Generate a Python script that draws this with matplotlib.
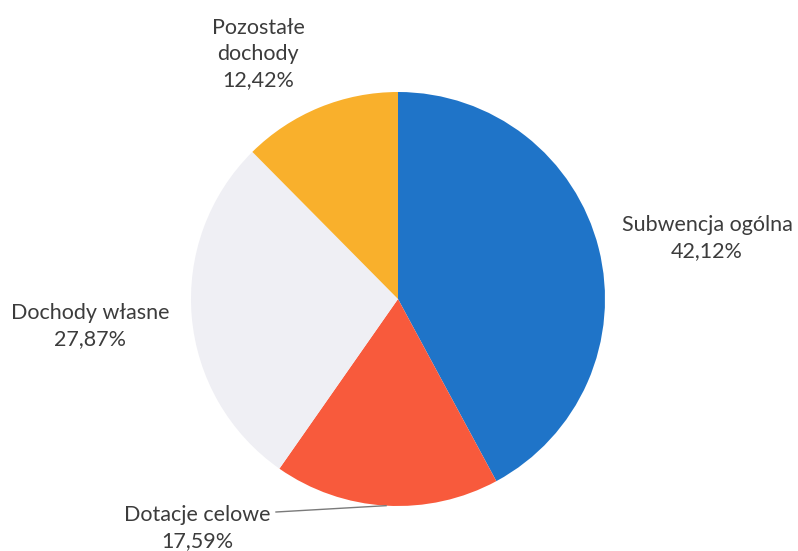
import numpy as np
import matplotlib.pyplot as plt

labels = ['Subwencja ogólna', 'Dotacje celowe', 'Dochody własne', 'Pozostałe\ndochody']
shares = [42.12, 17.59, 27.87, 12.42]
colors = ['#1f74c8', '#f85a3c', '#efeff4', '#f9b02c']

plt.rcParams['font.family'] = ['Lato', 'DejaVu Sans']

fig = plt.figure(figsize=(7.98, 5.51), dpi=100)
ax = fig.add_axes([0, 0, 1, 1])

cx, cy, r = 398, 252, 207
wedges, _ = ax.pie(shares, colors=colors, startangle=90, counterclock=False,
                   center=(cx, cy), radius=r, frame=True)
ax.set_xlim(0, 798)
ax.set_ylim(0, 551)
ax.axis('off')


def pct(v):
    return f'{v:.2f}%'.replace('.', ',')


txt = dict(color='#3c3c3c', fontsize=15.5, ha='center', va='center', linespacing=1.4)

# label positions in pixels from the top-left corner
label_pos = [(707, 238), (197, 528), (90, 326), (258, 54)]
for lab, val, (x, y) in zip(labels, shares, label_pos):
    ax.text(x, 551 - y, f'{lab}\n{pct(val)}', **txt)

# leader line for "Dotacje celowe"
w = wedges[1]
mid = np.deg2rad((w.theta1 + w.theta2) / 2)
ex, ey = cx + r * np.cos(mid), cy + r * np.sin(mid)
ax.plot([276, ex], [551 - 512, ey], color='#7a7a7a', lw=1)

fig.savefig('out.png', dpi=100)
